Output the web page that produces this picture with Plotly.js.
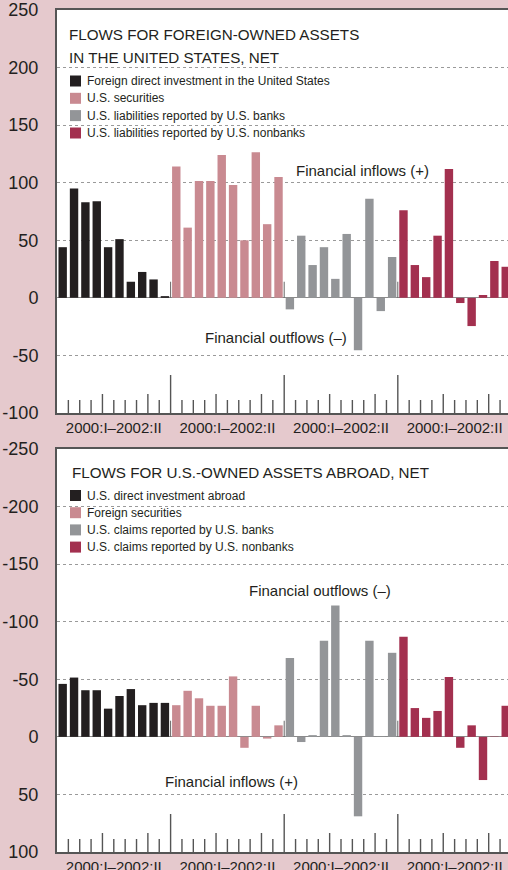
<!DOCTYPE html>
<html>
<head>
<meta charset="utf-8">
<script src="https://cdn.plot.ly/plotly-3.0.1.min.js"></script>
<style>
html,body{margin:0;padding:0;background:#e5c9cd;overflow:hidden;}
#chart{width:508px;height:870px;}
</style>
</head>
<body>
<div id="chart"></div>
<script>
// ---- Data ----
const quarters = ["2000:I","2000:II","2000:III","2000:IV","2001:I","2001:II","2001:III","2001:IV","2002:I","2002:II"];
const groupLabel = "2000:I\u20132002:II";

// Panel 1: Flows for foreign-owned assets in the United States, net
const foreignOwnedNames = [
  "Foreign direct investment in the United States",
  "U.S. securities",
  "U.S. liabilities reported by U.S. banks",
  "U.S. liabilities reported by U.S. nonbanks"
];
const fdiInUS        = [44, 95, 83, 84, 44, 51, 14, 22.5, 16, 1.5];
const usSecurities   = [114, 61, 101.5, 101.5, 124, 98, 50, 126.5, 64, 105];
const liabBanks      = [-10, 54, 28.5, 44, 16.5, 55.5, -45.5, 86, -11.5, 35.5];
const liabNonbanks   = [76, 28.5, 18, 54, 112, -4.5, -24.5, 2.5, 32, 27];

// Panel 2: Flows for U.S.-owned assets abroad, net
const usOwnedNames = [
  "U.S. direct investment abroad",
  "Foreign securities",
  "U.S. claims reported by U.S. banks",
  "U.S. claims reported by U.S. nonbanks"
];
const usDirectAbroad    = [-46, -51.5, -40.5, -40.5, -24.5, -35.5, -41.5, -27.5, -29.5, -29.5];
const foreignSecurities = [-27.5, -40, -33.5, -27, -27, -52.5, 9.5, -27, 1.5, -10];
const claimsBanks       = [-68.5, 4.5, -1.5, -83.5, -114, -1.5, 69, -83.5, -0.5, -73];
const claimsNonbanks    = [-87, -25, -16.5, -22.5, -52, 9.5, -10, 37.5, -0.3, -27];

const seriesColors = ["#231f20", "#c98a91", "#939598", "#a3304f"];

const topTickVals = [-100, -50, 0, 50, 100, 150, 200, 250];
const botTickVals = [-250, -200, -150, -100, -50, 0, 50, 100];

// ---- Build traces ----
const topSeries = [fdiInUS, usSecurities, liabBanks, liabNonbanks];
const botSeries = [usDirectAbroad, foreignSecurities, claimsBanks, claimsNonbanks];
const traces = [];
function addPanel(series, names, xa, ya) {
  series.forEach((vals, g) => {
    traces.push({
      type: "bar",
      x: vals.map((v, i) => g * quarters.length + i),
      y: vals,
      customdata: quarters,
      name: names[g],
      width: 0.74,
      marker: {color: seriesColors[g], line: {width: 0}},
      xaxis: xa, yaxis: ya,
      showlegend: false,
      hovertemplate: names[g] + "<br>%{customdata}: %{y}<extra></extra>"
    });
  });
}
addPanel(topSeries, foreignOwnedNames, "x", "y");
addPanel(botSeries, usOwnedNames, "x2", "y2");

// ---- Layout helpers ----
const W = 508, H = 870, mL = 57, mR = 0, mT = 10, mB = 18;
const pw = W - mL - mR, ph = H - mT - mB;
const px = x => (x - mL) / pw;
const py = y => (H - mB - y) / ph;
const nQ = quarters.length, nG = 4;
const groupCenters = [0, 1, 2, 3].map(g => g * nQ + (nQ - 1) / 2);
const FONT = "Liberation Sans, Arial, Helvetica, sans-serif";
const ink = "#231f20";

const shapes = [];
const annotations = [];
const panelH = 403;
[["y domain", "x", 1], ["y2 domain", "x2", -1]].forEach(([yd, xa, sgn]) => {
  for (let b = 1; b <= nG * nQ; b++) {
    const len = b % nQ === 0 ? 38 : (b % nQ === 4 || b % nQ === 8 ? 19 : 13);
    shapes.push({type: "line", xref: xa, yref: yd, x0: b - 0.5, x1: b - 0.5,
      y0: 0, y1: len / panelH, line: {color: "#555", width: 1.4}});
  }
  for (let g = 1; g < nG; g++) {
    shapes.push({type: "line", xref: xa, yref: yd.replace(" domain", ""), x0: g * nQ - 0.5, x1: g * nQ - 0.5,
      y0: 0, y1: 14 * sgn, line: {color: "#666", width: 1}});
  }
});

function legendBlock(names, rowsY) {
  names.forEach((n, i) => {
    shapes.push({type: "rect", xref: "paper", yref: "paper",
      x0: px(70), x1: px(81), y0: py(rowsY[i] + 5.5), y1: py(rowsY[i] - 5.5),
      fillcolor: seriesColors[i], line: {width: 0}});
    annotations.push({xref: "paper", yref: "paper", x: px(85), y: py(rowsY[i]),
      xanchor: "left", yanchor: "middle", text: n, showarrow: false,
      font: {family: FONT, size: 12, color: ink}});
  });
}
legendBlock(foreignOwnedNames, [81, 98.3, 115.6, 133]);
legendBlock(usOwnedNames, [495.5, 512.7, 529.9, 547.1]);

function label(text, x, y, size, anchor) {
  annotations.push({xref: "paper", yref: "paper", x: px(x), y: py(y),
    xanchor: anchor || "center", yanchor: "middle", text: text, showarrow: false,
    font: {family: FONT, size: size, color: ink}});
}
label("FLOWS FOR FOREIGN-OWNED ASSETS", 67, 35, 15.2, "left");
label("IN THE UNITED STATES, NET", 67, 57.5, 15.2, "left");
label("FLOWS FOR U.S.-OWNED ASSETS ABROAD, NET", 70, 472.5, 15.2, "left");
label("Financial inflows (+)", 362, 171, 15);
label("Financial outflows (\u2013)", 276, 338, 15);
label("Financial outflows (\u2013)", 320, 590, 15);
label("Financial inflows (+)", 231, 781, 15);

const xBase = {
  range: [-0.5, 39.2], showgrid: false, zeroline: false,
  tickvals: groupCenters, ticktext: groupCenters.map(() => groupLabel),
  ticks: "", tickfont: {family: FONT, size: 15, color: ink},
  showline: true, linecolor: "#555", linewidth: 2, mirror: true, fixedrange: true
};
const yBase = {
  showgrid: true, gridcolor: "#9a9a9a", griddash: "dot", gridwidth: 1,
  zeroline: true, zerolinecolor: "#8a8a8a", zerolinewidth: 1.2,
  showline: true, linecolor: "#555", linewidth: 2,
  ticks: "outside", ticklen: 13, tickcolor: "rgba(0,0,0,0)",
  tickfont: {family: FONT, size: 18, color: ink}, fixedrange: true
};

const layout = {
  width: W, height: H,
  margin: {l: mL, r: mR, t: mT, b: mB},
  paper_bgcolor: "#e5c9cd", plot_bgcolor: "#ffffff",
  barmode: "overlay", showlegend: false,
  xaxis: Object.assign({}, xBase, {anchor: "y"}),
  xaxis2: Object.assign({}, xBase, {anchor: "y2"}),
  yaxis: Object.assign({}, yBase, {domain: [py(413), 1], range: [-100, 250],
    tickvals: topTickVals, ticktext: topTickVals.map(String)}),
  yaxis2: Object.assign({}, yBase, {domain: [0, py(449)], range: [100, -250],
    tickvals: botTickVals, ticktext: botTickVals.map(String)}),
  shapes: shapes,
  annotations: annotations,
  font: {family: FONT, color: ink}
};

Plotly.newPlot("chart", traces, layout, {displayModeBar: false, staticPlot: true});
</script>
</body>
</html>
